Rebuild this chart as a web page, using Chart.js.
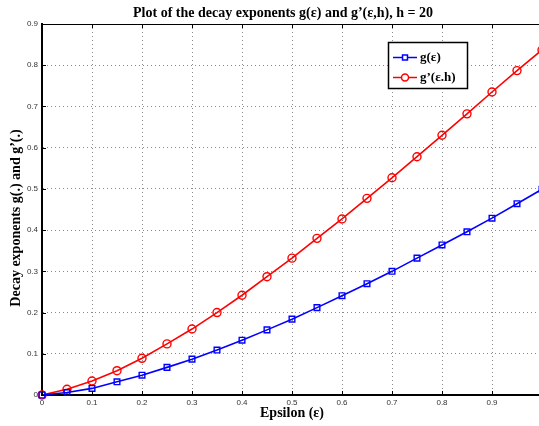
<!DOCTYPE html>
<html>
<head>
  <title>Decay exponents</title>
  <script src="https://cdn.jsdelivr.net/npm/chart.js"></script>
  <style>
    html, body { margin: 0; padding: 0; background: #fff; overflow: hidden; }
    #wrap { width: 539px; height: 426px; overflow: hidden; }
  </style>
</head>
<body>
<div id="wrap">
  <canvas id="chart" width="542" height="426"></canvas>
</div>

<script>
// epsilon values and the two decay exponents
const epsilon = [0, 0.05, 0.1, 0.15, 0.2, 0.25, 0.3, 0.35, 0.4, 0.45, 0.5,
                 0.55, 0.6, 0.65, 0.7, 0.75, 0.8, 0.85, 0.9, 0.95, 1.0];
const gValues = [0, 0.006, 0.016, 0.032, 0.048, 0.067, 0.087, 0.109, 0.133, 0.158, 0.184,
                 0.212, 0.241, 0.270, 0.300, 0.332, 0.364, 0.396, 0.429, 0.464, 0.499];
const gPrimeValues = [0, 0.014, 0.034, 0.059, 0.089, 0.124, 0.160, 0.200, 0.242, 0.287, 0.332,
                      0.380, 0.427, 0.477, 0.527, 0.578, 0.630, 0.682, 0.735, 0.787, 0.837];

const xTicks = [0, 0.1, 0.2, 0.3, 0.4, 0.5, 0.6, 0.7, 0.8, 0.9];
const yTicks = [0, 0.1, 0.2, 0.3, 0.4, 0.5, 0.6, 0.7, 0.8, 0.9];

const titleText = "Plot of the decay exponents g(\u03b5) and g\u2019(\u03b5,h), h = 20";
const xTitle = "Epsilon (\u03b5)";
const yTitle = "Decay exponents g(.) and g\u2019(.)";
const legendLabels = ["g(\u03b5)", "g\u2019(\u03b5.h)"];

const serif = "'Liberation Serif', 'DejaVu Serif', serif";

// title, axis labels, box, inner ticks and legend, matlab style
const extras = {
  id: "extras",
  afterDraw(chart) {
    const ctx = chart.ctx;
    const a = chart.chartArea;
    const xs = chart.scales.x, ys = chart.scales.y;
    ctx.save();

    ctx.fillStyle = "#000";
    ctx.textAlign = "center";
    ctx.textBaseline = "middle";
    ctx.font = "bold 14px " + serif;
    ctx.fillText(titleText, 283, 13);
    ctx.fillText(xTitle, 292, 413);

    ctx.save();
    ctx.translate(16, 218);
    ctx.rotate(-Math.PI / 2);
    ctx.font = "bold 14px " + serif;
    ctx.fillText(yTitle, 0, 0);
    ctx.restore();

    // top border
    ctx.strokeStyle = "#000";
    ctx.lineWidth = 1;
    ctx.beginPath();
    ctx.moveTo(a.left, a.top + 0.5);
    ctx.lineTo(a.right, a.top + 0.5);
    ctx.stroke();

    // inner tick marks
    ctx.beginPath();
    xTicks.forEach(v => {
      const px = Math.round(xs.getPixelForValue(v)) + 0.5;
      ctx.moveTo(px, a.bottom); ctx.lineTo(px, a.bottom - 4);
      ctx.moveTo(px, a.top); ctx.lineTo(px, a.top + 4);
    });
    yTicks.forEach(v => {
      const py = Math.round(ys.getPixelForValue(v)) + 0.5;
      ctx.moveTo(a.left, py); ctx.lineTo(a.left + 4, py);
    });
    ctx.stroke();

    // legend box
    const bx = 388.5, by = 42.5, bw = 79, bh = 46;
    ctx.fillStyle = "#fff";
    ctx.fillRect(bx, by, bw, bh);
    ctx.lineWidth = 1.5;
    ctx.strokeStyle = "#000";
    ctx.strokeRect(bx, by, bw, bh);

    const rows = [57.5, 77.5];
    chart.data.datasets.forEach((ds, i) => {
      const y = rows[i];
      ctx.strokeStyle = ds.borderColor;
      ctx.lineWidth = 1.5;
      ctx.beginPath();
      ctx.moveTo(393, y);
      ctx.lineTo(417, y);
      ctx.stroke();
      ctx.fillStyle = "#fff";
      Chart.helpers.drawPoint(ctx, {
        pointStyle: ds.pointStyle,
        radius: ds.pointRadius - 0.5,
        borderWidth: 1.4
      }, 405, y);
      ctx.fillStyle = "#000";
      ctx.font = "bold 13px " + serif;
      ctx.textAlign = "left";
      ctx.textBaseline = "middle";
      ctx.fillText(legendLabels[i], 420, y);
    });

    ctx.restore();
  }
};

new Chart(document.getElementById("chart"), {
  type: "line",
  data: {
    datasets: [
      {
        label: legendLabels[0],
        data: epsilon.map((x, i) => ({ x: x, y: gValues[i] })),
        borderColor: "#0000ff",
        backgroundColor: "rgba(0,0,0,0)",
        borderWidth: 1.6,
        pointStyle: "rect",
        pointRadius: 4,
        pointBorderWidth: 1.4,
        pointBackgroundColor: "rgba(0,0,0,0)",
        tension: 0
      },
      {
        label: legendLabels[1],
        data: epsilon.map((x, i) => ({ x: x, y: gPrimeValues[i] })),
        borderColor: "#ff0000",
        backgroundColor: "rgba(0,0,0,0)",
        borderWidth: 1.6,
        pointStyle: "circle",
        pointRadius: 4,
        pointBorderWidth: 1.4,
        pointBackgroundColor: "rgba(0,0,0,0)",
        tension: 0
      }
    ]
  },
  options: {
    responsive: false,
    animation: false,
    clip: false,
    layout: { autoPadding: false, padding: { top: 24, right: 0, left: 0, bottom: 0 } },
    plugins: {
      legend: { display: false },
      title: { display: false },
      tooltip: { enabled: false }
    },
    scales: {
      x: {
        type: "linear",
        min: 0,
        max: 1,
        afterBuildTicks: s => { s.ticks = xTicks.map(v => ({ value: v })); },
        afterFit: s => { s.height = 31; },
        grid: { color: "#8c8c8c", lineWidth: 1, drawTicks: false },
        border: { display: true, color: "#000", width: 2, dash: [1, 3] },
        ticks: {
          padding: 3,
          color: "#333",
          font: { family: "'Liberation Sans', Arial, sans-serif", size: 8 },
          maxRotation: 0,
          callback: v => String(v)
        }
      },
      y: {
        min: 0,
        max: 0.9,
        afterBuildTicks: s => { s.ticks = yTicks.map(v => ({ value: v })); },
        afterFit: s => { s.width = 42; },
        grid: { color: "#8c8c8c", lineWidth: 1, drawTicks: false },
        border: { display: true, color: "#000", width: 2, dash: [1, 3] },
        ticks: {
          padding: 4,
          color: "#333",
          font: { family: "'Liberation Sans', Arial, sans-serif", size: 8 },
          callback: v => String(v)
        }
      }
    }
  },
  plugins: [extras]
});
</script>
</body>
</html>
